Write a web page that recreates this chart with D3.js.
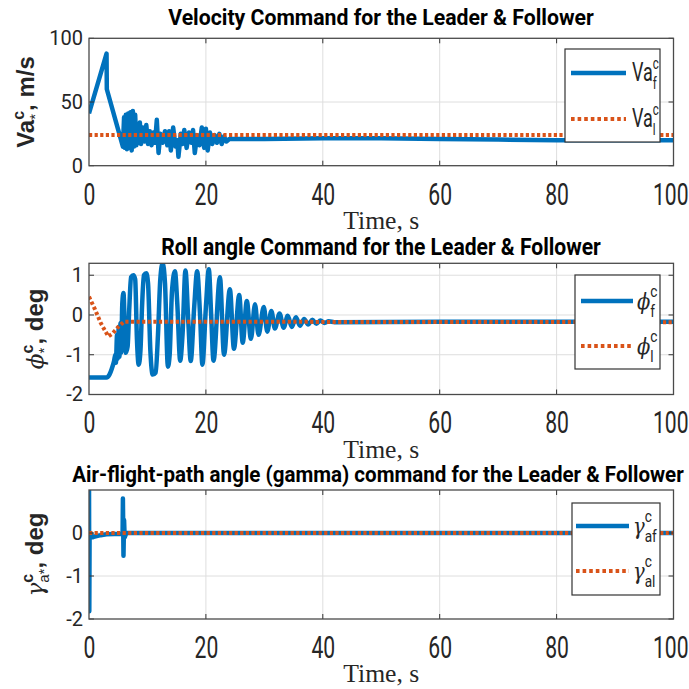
<!DOCTYPE html>
<html>
<head>
<meta charset="utf-8">
<script src="https://cdn.jsdelivr.net/npm/d3@7"></script>
<style>
  body { margin: 0; background: #fff; }
  svg { display: block; }
</style>
</head>
<body>
<svg width="689" height="689"></svg>
<script>
// ---- data ----
const timeTicks = [0, 20, 40, 60, 80, 100];
const vaTicks = [0, 50, 100];
const phiTicks = [-2, -1, 0, 1];
const gammaTicks = [-2, -1, 0];

const titles = [
  'Velocity Command for the Leader & Follower',
  'Roll angle Command for the Leader & Follower',
  'Air-flight-path angle (gamma) command for the Leader & Follower'
];
const xLabel = 'Time, s';

// [time s, value]
const vaFollower = [
  [0,41],[3.0,88],[3.05,60],[5.8,15],[6.0,38],[6.15,14],[6.3,40],[6.5,13],[6.7,41],[6.9,14],
  [7.1,42],[7.3,12],[7.5,43],[7.7,15],[7.9,40],[8.1,16],[8.3,33],[8.5,18],[8.7,34],[8.9,17],
  [9.2,30],[9.5,19],[9.8,32],[10.1,17],[10.4,27],[10.7,16],[11.0,26],[11.3,18],[11.6,36],[11.9,10],
  [12.2,25],[12.6,18],[13.0,27],[13.4,16],[13.7,27],[14.0,12],[14.4,30],[14.8,15],[15.1,20],[15.3,7],
  [15.7,25],[16.0,17],[16.3,28],[16.7,14],[17.1,26],[17.5,18],[17.8,28],[18.1,10],[18.5,24],[18.9,16],
  [19.3,30],[19.7,14],[20.0,29],[20.3,12],[20.7,26],[21.1,17],[21.5,24],[21.9,18],[22.3,25],[22.7,17],
  [23.1,23],[23.5,19],[24,21],[30,21],[40,21.5],[50,21.5],[60,21],[70,20.5],[80,20],[90,20],[100,20]
];
const vaLeader = [[0,24],[100,24]];

const phiFollower = [
  [0,-1.57],[3.0,-1.57],[3.5,-1.5],[3.9,-1.35],[4.3,-1.15],[4.5,-1.0],[4.6,-1.2],[4.8,-0.5],[4.9,-1.1],
  [5.1,-0.3],[5.2,-1.05],[5.4,-0.2],[5.5,-0.95],[5.7,0.3],[5.9,0.55],[6.1,-0.2],[6.3,-0.95],[6.6,-0.8],
  [6.9,0.2],[7.2,0.95],[7.6,1.0],[7.9,0.9],[8.2,-0.6],[8.5,-1.25],[8.8,-0.9],[9.1,0.3],[9.4,1.0],
  [9.8,1.05],[10.1,0.8],[10.5,-0.9],[10.9,-1.5],[11.4,-1.45],[11.8,-0.5],[12.2,0.9],[12.6,1.3],[13.0,0.8],
  [13.5,-1.3],[13.8,-1.0],[14.2,0.6],[14.7,1.1],[15.1,0.3],[15.6,-1.15],[16.0,-0.5],[16.5,1.12],[17.0,-0.2],
  [17.4,-1.16],[18.0,0.2],[18.5,1.1],[19.0,0.0],[19.4,-1.25],[20.0,0.2],[20.5,1.15],[20.9,0.0],[21.3,-1.15],
  [22.4,0.95],[23.1,-1.0],[24.1,0.65],[24.8,-0.85],[25.7,0.5],[26.3,-0.7],[27.0,0.35],[27.7,-0.6],
  [28.4,0.27],[29.0,-0.5],[29.9,0.2],[30.5,-0.42],[31.2,0.1],[31.8,-0.34],[32.6,0.04],[33.3,-0.32],
  [34.0,-0.02],[34.7,-0.3],[35.4,-0.06],[36.1,-0.27],[36.8,-0.1],[37.5,-0.24],[38.2,-0.12],[38.9,-0.22],
  [39.6,-0.14],[40.3,-0.2],[41,-0.16],[42,-0.18],[60,-0.17],[80,-0.17],[100,-0.17]
];
const phiLeader = [[0,0.46],[1,0.15],[2,-0.2],[3.3,-0.54],[4,-0.47],[5,-0.3],[6,-0.17],[8,-0.17],[100,-0.18]];

const gammaFollower = [
  [0,1.2],[0.05,-1.82],[0.1,-0.05],[0.3,0],[0.6,-0.1],[1.0,-0.08],[2,-0.05],[3,-0.03],
  [5.75,-0.02],[5.8,0.8],[5.9,-0.53],[6.0,0.3],[6.1,-0.1],[6.4,0],[100,0]
];
const gammaLeader = [[0,0],[100,0]];

// label pieces: text, size, shift (baseline), stack = placed under the previous piece
const vaYLabel = [
  {t: 'Va', size: 24, weight: 'bold'},
  {t: 'c', size: 16, weight: 'bold', shift: -10},
  {t: '*', size: 15, shift: 6, stack: true},
  {t: ', m/s', size: 24, weight: 'bold'}
];
const phiYLabel = [
  {t: 'ϕ', size: 23, style: 'italic', family: 'DejaVu Serif'},
  {t: 'c', size: 16, weight: 'bold', shift: -10},
  {t: '*', size: 15, shift: 6, stack: true},
  {t: ', deg', size: 24, weight: 'bold'}
];
const gammaYLabel = [
  {t: 'γ', size: 23, style: 'italic', family: 'DejaVu Serif'},
  {t: 'c', size: 16, weight: 'bold', shift: -10},
  {t: 'a*', size: 15, shift: 6, stack: true},
  {t: ', deg', size: 24, weight: 'bold'}
];
const vaLegend = [
  [{t: 'Va', size: 25}, {t: 'c', size: 16, shift: -12}, {t: 'f', size: 16, shift: 8, stack: true}],
  [{t: 'Va', size: 25}, {t: 'c', size: 16, shift: -12}, {t: 'l', size: 16, shift: 8, stack: true}]
];
const phiLegend = [
  [{t: 'ϕ', size: 23, style: 'italic', family: 'DejaVu Serif'}, {t: 'c', size: 16, shift: -12}, {t: 'f', size: 16, shift: 8, stack: true}],
  [{t: 'ϕ', size: 23, style: 'italic', family: 'DejaVu Serif'}, {t: 'c', size: 16, shift: -12}, {t: 'l', size: 16, shift: 8, stack: true}]
];
const gammaLegend = [
  [{t: 'γ', size: 23, style: 'italic', family: 'DejaVu Serif'}, {t: 'c', size: 16, shift: -12}, {t: 'af', size: 16, shift: 8, stack: true}],
  [{t: 'γ', size: 23, style: 'italic', family: 'DejaVu Serif'}, {t: 'c', size: 16, shift: -12}, {t: 'al', size: 16, shift: 8, stack: true}]
];

// ---- layout ----
const blue = '#0072BD', orange = '#D95319';
const left = 89, right = 673.5;
const svg = d3.select('svg');
const x = d3.scaleLinear().domain([0, 100]).range([left, right]);

const panels = [
  {top: 38.3, bottom: 165.7, domain: [0, 100], ticks: vaTicks, follower: vaFollower, leader: vaLeader,
   title: titles[0], titleX: 381, titleY: 25, titleLen: 426, ylabel: vaYLabel, labelX: 34,
   legend: {x: 565, y: 49, w: 95, h: 93, l1: 24, l2: 70, sx: 6, ex: 61, tx: 67, squeeze: 0.72}, entries: vaLegend, smooth: false},
  {top: 263.3, bottom: 394.5, domain: [-2, 1.3], ticks: phiTicks, follower: phiFollower, leader: phiLeader,
   title: titles[1], titleX: 381, titleY: 255, titleLen: 440, ylabel: phiYLabel, labelX: 43,
   legend: {x: 575, y: 275, w: 85, h: 94, l1: 26, l2: 71, sx: 6, ex: 58, tx: 62, squeeze: 0.85}, entries: phiLegend, smooth: true},
  {top: 490, bottom: 619, domain: [-2, 1], ticks: gammaTicks, follower: gammaFollower, leader: gammaLeader,
   title: titles[2], titleX: 378, titleY: 482, titleLen: 612, ylabel: gammaYLabel, labelX: 43,
   legend: {x: 572, y: 503, w: 88, h: 92, l1: 23, l2: 68, sx: 4, ex: 57, tx: 61, squeeze: 0.85}, entries: gammaLegend, smooth: false}
];

// writes text pieces with raised / lowered parts into a text element
function rich(textSel, parts) {
  let curShift = 0, prevW = 0, extra = 0;
  parts.forEach(p => {
    const ts = textSel.append('tspan').text(p.t).attr('font-size', p.size);
    if (p.weight) ts.attr('font-weight', p.weight);
    if (p.style) ts.attr('font-style', p.style);
    if (p.family) ts.attr('font-family', p.family);
    const s = p.shift || 0;
    ts.attr('dy', s - curShift);
    curShift = s;
    let dx = extra;
    extra = 0;
    if (p.stack) dx -= prevW;
    if (dx) ts.attr('dx', dx);
    const w = ts.node().getComputedTextLength();
    if (p.stack && prevW > w) extra = prevW - w;
    prevW = w;
  });
}

panels.forEach((p, i) => {
  const y = d3.scaleLinear().domain(p.domain).range([p.bottom, p.top]);
  const g = svg.append('g');

  // grid
  g.selectAll('.gx').data(timeTicks.slice(1, -1)).enter().append('line')
    .attr('x1', d => x(d)).attr('x2', d => x(d))
    .attr('y1', p.top).attr('y2', p.bottom)
    .attr('stroke', '#dedede').attr('stroke-width', 1);
  g.selectAll('.gy').data(p.ticks.filter(d => y(d) > p.top + 1 && y(d) < p.bottom - 1)).enter().append('line')
    .attr('x1', left).attr('x2', right)
    .attr('y1', d => y(d)).attr('y2', d => y(d))
    .attr('stroke', '#dedede').attr('stroke-width', 1);

  // data
  const clipId = 'clip' + i;
  svg.append('clipPath').attr('id', clipId).append('rect')
    .attr('x', left).attr('y', p.top).attr('width', right - left).attr('height', p.bottom - p.top);
  const line = d3.line().x(d => x(d[0])).y(d => y(d[1]))
    .curve(p.smooth ? d3.curveMonotoneX : d3.curveLinear);
  const plot = g.append('g').attr('clip-path', `url(#${clipId})`);
  plot.append('path').datum(p.follower).attr('d', line)
    .attr('fill', 'none').attr('stroke', blue).attr('stroke-width', 4.5)
    .attr('stroke-linejoin', 'round');
  plot.append('path').datum(p.leader).attr('d', d3.line().x(d => x(d[0])).y(d => y(d[1])))
    .attr('fill', 'none').attr('stroke', orange).attr('stroke-width', 4)
    .attr('stroke-dasharray', '3.2,2.4');

  // axes
  const xAxis = g.append('g').attr('transform', `translate(0,${p.bottom})`)
    .call(d3.axisBottom(x).tickValues(timeTicks).tickFormat(d => String(d)).tickSize(0).tickPadding(0));
  xAxis.select('.domain').remove();
  xAxis.selectAll('text')
    .attr('y', 39).attr('dy', null)
    .attr('font-family', 'Roboto, sans-serif').attr('font-size', 32)
    .attr('fill', '#262626')
    .attr('transform', 'scale(0.66,1)');
  // the last label sits against the right edge of the page
  xAxis.selectAll('text').filter(d => d === 100)
    .attr('text-anchor', 'end').attr('x', (688 - right) / 0.66);

  const yAxis = g.append('g').attr('transform', `translate(${left},0)`)
    .call(d3.axisLeft(y).tickValues(p.ticks).tickFormat(d => String(d)).tickSize(0).tickPadding(6));
  yAxis.select('.domain').remove();
  yAxis.selectAll('text')
    .attr('font-family', 'Roboto, sans-serif').attr('font-size', 20)
    .attr('fill', '#262626');

  // inward ticks on all four sides
  const tl = 5;
  timeTicks.slice(1, -1).forEach(t => {
    g.append('line').attr('x1', x(t)).attr('x2', x(t)).attr('y1', p.bottom).attr('y2', p.bottom - tl).attr('stroke', '#333');
    g.append('line').attr('x1', x(t)).attr('x2', x(t)).attr('y1', p.top).attr('y2', p.top + tl).attr('stroke', '#333');
  });
  p.ticks.forEach(v => {
    g.append('line').attr('x1', left).attr('x2', left + tl).attr('y1', y(v)).attr('y2', y(v)).attr('stroke', '#333');
    g.append('line').attr('x1', right).attr('x2', right - tl).attr('y1', y(v)).attr('y2', y(v)).attr('stroke', '#333');
  });
  g.append('rect').attr('x', left).attr('y', p.top)
    .attr('width', right - left).attr('height', p.bottom - p.top)
    .attr('fill', 'none').attr('stroke', '#4a4a4a').attr('stroke-width', 1.3);

  // title, squeezed sideways to the reference width
  const tt = g.append('text')
    .attr('text-anchor', 'middle')
    .attr('font-family', 'Roboto, sans-serif').attr('font-weight', 'bold').attr('font-size', 23)
    .attr('fill', '#000')
    .text(p.title);
  const natural = tt.node().getComputedTextLength();
  tt.attr('transform', `translate(${p.titleX},${p.titleY}) scale(${p.titleLen / natural},1)`);

  // x label
  g.append('text').attr('x', (left + right) / 2).attr('y', p.bottom + 63)
    .attr('text-anchor', 'middle')
    .attr('font-family', '"Liberation Serif", serif').attr('font-size', 26)
    .attr('textLength', 76).attr('lengthAdjust', 'spacingAndGlyphs')
    .attr('fill', '#262626')
    .text(xLabel);

  // y label
  const yl = g.append('text')
    .attr('transform', `translate(${p.labelX},${(p.top + p.bottom) / 2}) rotate(-90)`)
    .attr('text-anchor', 'middle')
    .attr('font-family', '"Liberation Sans", Arial, sans-serif')
    .attr('fill', '#262626');
  rich(yl, p.ylabel);

  // legend
  const L = p.legend;
  const lg = g.append('g').attr('transform', `translate(${L.x},${L.y})`);
  lg.append('rect').attr('width', L.w).attr('height', L.h)
    .attr('fill', '#fff').attr('stroke', '#333').attr('stroke-width', 1.2);
  lg.append('line').attr('x1', L.sx).attr('x2', L.ex).attr('y1', L.l1).attr('y2', L.l1)
    .attr('stroke', blue).attr('stroke-width', 4.5);
  lg.append('line').attr('x1', L.sx).attr('x2', L.ex).attr('y1', L.l2).attr('y2', L.l2)
    .attr('stroke', orange).attr('stroke-width', 4).attr('stroke-dasharray', '3.6,3');
  [L.l1, L.l2].forEach((ly, k) => {
    const tg = lg.append('g').attr('transform', `translate(${L.tx},${ly + 8}) scale(${L.squeeze},1)`);
    const t = tg.append('text').attr('font-family', 'Roboto, sans-serif').attr('fill', '#262626');
    rich(t, p.entries[k]);
  });
});
</script>
</body>
</html>
